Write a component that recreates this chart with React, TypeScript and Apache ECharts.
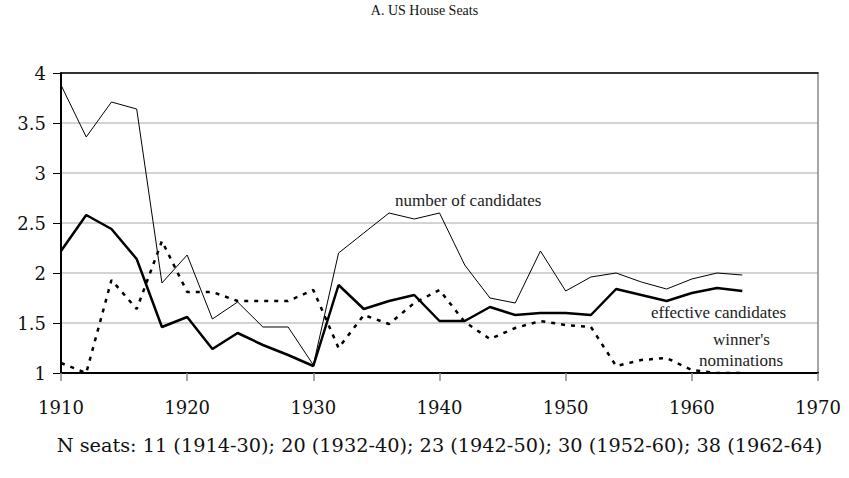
import React, { useEffect, useRef } from "react";
import * as echarts from "echarts";

const years = [1910, 1912, 1914, 1916, 1918, 1920, 1922, 1924, 1926, 1928, 1930, 1932, 1934, 1936, 1938, 1940, 1942, 1944, 1946, 1948, 1950, 1952, 1954, 1956, 1958, 1960, 1962, 1964];
const numberOfCandidates = [3.88, 3.36, 3.71, 3.64, 1.9, 2.18, 1.54, 1.71, 1.46, 1.46, 1.08, 2.2, 2.4, 2.6, 2.54, 2.6, 2.08, 1.75, 1.7, 2.22, 1.82, 1.96, 2.0, 1.91, 1.84, 1.94, 2.0, 1.98];
const effectiveCandidates = [2.22, 2.58, 2.44, 2.14, 1.46, 1.56, 1.24, 1.4, 1.28, 1.18, 1.07, 1.88, 1.64, 1.72, 1.78, 1.52, 1.52, 1.66, 1.58, 1.6, 1.6, 1.58, 1.84, 1.78, 1.72, 1.8, 1.85, 1.82];
const winnersNominations = [1.1, 1.0, 1.93, 1.64, 2.32, 1.81, 1.81, 1.72, 1.72, 1.72, 1.83, 1.25, 1.58, 1.49, 1.7, 1.83, 1.51, 1.34, 1.45, 1.52, 1.48, 1.46, 1.07, 1.13, 1.15, 1.03, 1.0, 1.0];

const titleText = "A. US House Seats";
const xAxisName = "N seats: 11 (1914-30); 20 (1932-40); 23 (1942-50); 30 (1952-60); 38 (1962-64)";
const seriesLabels = ["number of candidates", "effective candidates", "winner's", "nominations"];

const FONT = "Liberation Serif";
const AXIS_FONT = "DejaVu Serif";

export default function App() {
  const ref = useRef<HTMLDivElement>(null);
  useEffect(() => {
    const chart = echarts.init(ref.current!, null, { renderer: "svg" });
    const toPairs = (arr: number[]) => years.map((y, i) => [y, arr[i]]);
    chart.setOption({
      animation: false,
      backgroundColor: "#ffffff",
      textStyle: { fontFamily: FONT },
      title: {
        text: titleText,
        left: "center",
        top: -2,
        textStyle: { fontFamily: FONT, fontSize: 14, fontWeight: "normal", color: "#111" },
      },
      grid: { left: 61, right: 31, top: 73, bottom: 105, outerBoundsMode: "none", show: false },
      xAxis: [
        {
          type: "value",
          min: 1910,
          max: 1970,
          interval: 10,
          name: xAxisName,
          nameLocation: "middle",
          nameGap: 63,
          nameTextStyle: { fontFamily: AXIS_FONT, fontSize: 19.3, color: "#111" },
          axisLine: { show: true, onZero: false, lineStyle: { color: "#000", width: 2 } },
          axisTick: { show: true, length: 8, lineStyle: { color: "#888", width: 1.5 } },
          axisLabel: {
            fontFamily: AXIS_FONT,
            fontSize: 18,
            color: "#111",
            margin: 25,
            formatter: (v: number) => String(v),
          },
          splitLine: { show: false },
        },
        {
          type: "value",
          position: "top",
          min: 1910,
          max: 1970,
          interval: 10,
          axisLine: { show: true, onZero: false, lineStyle: { color: "#000", width: 1.5 } },
          axisTick: { show: false },
          axisLabel: { show: false },
          splitLine: { show: false },
        },
      ],
      yAxis: [
        {
          type: "value",
          min: 1,
          max: 4,
          interval: 0.5,
          axisLine: { show: true, onZero: false, lineStyle: { color: "#000", width: 2 } },
          axisTick: { show: true, length: 8, lineStyle: { color: "#000", width: 1 } },
          axisLabel: {
            fontFamily: AXIS_FONT,
            fontSize: 18,
            color: "#111",
            margin: 15,
            formatter: (v: number) => String(v),
          },
          splitLine: { show: true, lineStyle: { color: "#c4c4c4", width: 1.5 } },
        },
        {
          type: "value",
          position: "right",
          min: 1,
          max: 4,
          interval: 0.5,
          axisLine: { show: true, onZero: false, lineStyle: { color: "#888", width: 1.5 } },
          axisTick: { show: false },
          axisLabel: { show: false },
          splitLine: { show: false },
        },
      ],
      series: [
        {
          name: seriesLabels[0],
          type: "line",
          data: toPairs(numberOfCandidates),
          showSymbol: false,
          lineStyle: { color: "#000", width: 1 },
          z: 3,
        },
        {
          name: seriesLabels[1],
          type: "line",
          data: toPairs(effectiveCandidates),
          showSymbol: false,
          lineStyle: { color: "#000", width: 2.5 },
          z: 4,
        },
        {
          name: "winner's nominations",
          type: "line",
          data: toPairs(winnersNominations),
          showSymbol: false,
          lineStyle: { color: "#000", width: 2.5, type: [4, 6] },
          z: 5,
        },
      ],
      graphic: [
        {
          type: "text",
          left: 395,
          top: 192,
          style: { text: seriesLabels[0], fontFamily: FONT, fontSize: 17, fill: "#222" },
        },
        {
          type: "text",
          left: 651,
          top: 304,
          style: { text: seriesLabels[1], fontFamily: FONT, fontSize: 17, fill: "#222" },
        },
        {
          type: "text",
          left: 713,
          top: 331,
          style: { text: seriesLabels[2], fontFamily: FONT, fontSize: 17, fill: "#222" },
        },
        {
          type: "text",
          left: 699,
          top: 352,
          style: { text: seriesLabels[3], fontFamily: FONT, fontSize: 17, fill: "#222" },
        },
      ],
    });
    return () => chart.dispose();
  }, []);
  return (
    <div
      ref={ref}
      style={{ position: "fixed", left: 0, top: 0, width: 849, height: 478 }}
    />
  );
}
